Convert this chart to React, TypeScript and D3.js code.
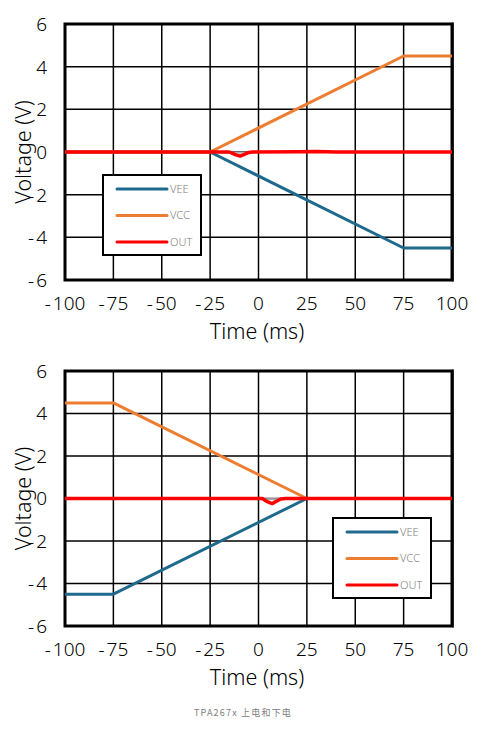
import React from "react";
import * as d3 from "d3";

// ---- data ----
const xTicks = [-100, -75, -50, -25, 0, 25, 50, 75, 100];
const yTicks = [-6, -4, -2, 0, 2, 4, 6];
const seriesNames = ["VEE", "VCC", "OUT"];
const seriesColors = ["#1F6A8C", "#ED7D31", "#FF0000"];

// Power-up (top)
const upVEE: [number, number][] = [[-100, 0], [-25, 0], [75, -4.5], [100, -4.5]];
const upVCC: [number, number][] = [[-100, 0], [-25, 0], [75, 4.5], [100, 4.5]];
const upOUT: [number, number][] = [[-100, 0], [-15, 0], [-12, -0.12], [-9.5, -0.19], [-7, -0.1], [-5, -0.02], [-3, 0], [20, 0.01], [30, 0.02], [40, 0], [100, 0]];
const upGray: [number, number][] = [[-20, -0.03], [-6, -0.03]];

// Power-down (bottom)
const dnVEE: [number, number][] = [[-100, -4.5], [-75, -4.5], [25, 0], [100, 0]];
const dnVCC: [number, number][] = [[-100, 4.5], [-75, 4.5], [25, 0], [100, 0]];
const dnOUT: [number, number][] = [[-100, 0], [2, 0], [4.5, -0.15], [7, -0.24], [9.5, -0.12], [11.5, -0.02], [14, 0], [100, 0]];
const dnGray: [number, number][] = [[0, -0.03], [12, -0.03]];

const caption = "TPA267x 上电和下电";

const FONT = "'Noto Sans', 'Noto Sans CJK SC', sans-serif";
const CJK = "'Noto Sans CJK SC', sans-serif";

interface PanelProps {
  top: number;
  bottom: number;
  series: [number, number][][];
  gray: [number, number][];
  legend: { x: number; y: number };
}

function Num({ v }: { v: number }) {
  if (v < 0) {
    return (
      <>
        <tspan>-</tspan>
        <tspan dx={2}>{String(Math.abs(v))}</tspan>
      </>
    );
  }
  return <>{String(v)}</>;
}

function Panel({ top, bottom, series, gray, legend }: PanelProps) {
  const left = 65;
  const right = 452;
  const x = d3.scaleLinear().domain([-100, 100]).range([left, right]);
  const y = d3.scaleLinear().domain([-6, 6]).range([bottom, top]);
  const line = d3
    .line<[number, number]>()
    .x((d) => x(d[0]))
    .y((d) => y(d[1]));
  const legW = 98;
  const legH = 80;
  return (
    <g>
      {/* grid */}
      {xTicks.map((t) => (
        <line key={"gx" + t} x1={x(t)} x2={x(t)} y1={top} y2={bottom} stroke="#000" strokeWidth={1.5} />
      ))}
      {yTicks.map((t) => (
        <line key={"gy" + t} x1={left} x2={right} y1={y(t)} y2={y(t)} stroke="#000" strokeWidth={1.5} />
      ))}
      {/* frame */}
      <rect x={left} y={top} width={right - left} height={bottom - top} fill="none" stroke="#000" strokeWidth={3} />
      <line x1={right + 1} x2={right + 1} y1={top - 1.5} y2={bottom + 1.5} stroke="#000" strokeWidth={1.5} />
      {/* series */}
      <path d={line(gray) || ""} fill="none" stroke="#B0B0B0" strokeWidth={2} />
      {series.map((s, i) => (
        <path key={i} d={line(s) || ""} fill="none" stroke={seriesColors[i]} strokeWidth={i === 2 ? 3.5 : 3} strokeLinejoin="round" />
      ))}
      {/* axis tick labels */}
      {yTicks.map((t) => (
        <text key={"ly" + t} x={47} y={y(t)} dy="0.36em" textAnchor="end" fontSize={19} fontWeight={300} fontFamily={FONT} fill="#000">
          <Num v={t} />
        </text>
      ))}
      {xTicks.map((t) => (
        <text key={"lx" + t} x={x(t)} y={bottom + 23} dy="0.36em" textAnchor="middle" fontSize={19} fontWeight={300} fontFamily={FONT} fill="#000">
          <Num v={t} />
        </text>
      ))}
      <text x={257} y={bottom + 51} dy="0.36em" textAnchor="middle" fontSize={21.5} fontWeight={300} fontFamily={FONT} fill="#000">
        Time (ms)
      </text>
      <text
        transform={`translate(23,${(top + bottom) / 2}) rotate(-90)`}
        dy="0.36em"
        textAnchor="middle"
        fontSize={21.5}
        fontWeight={300}
        fontFamily={FONT}
        fill="#000"
      >
        Voltage (V)
      </text>
      {/* legend */}
      <rect x={legend.x} y={legend.y} width={legW} height={legH} fill="#fff" stroke="#000" strokeWidth={2} />
      {seriesNames.map((n, i) => (
        <g key={n}>
          <line
            x1={legend.x + 14}
            x2={legend.x + 64}
            y1={legend.y + 14 + i * 26.5}
            y2={legend.y + 14 + i * 26.5}
            stroke={seriesColors[i]}
            strokeWidth={3}
            strokeLinecap="round"
          />
          <text x={legend.x + 67} y={legend.y + 14 + i * 26.5} dy="0.36em" fontSize={11} fontWeight={300} fontFamily={FONT} fill="#808080">
            {n}
          </text>
        </g>
      ))}
    </g>
  );
}

export default function App() {
  return (
    <svg width={482} height={734} style={{ position: "absolute", left: 0, top: 0, background: "#fff" }}>
      <rect x={0} y={0} width={482} height={734} fill="#fff" />
      <Panel top={24} bottom={280} series={[upVEE, upVCC, upOUT]} gray={upGray} legend={{ x: 103, y: 175 }} />
      <Panel top={371} bottom={626} series={[dnVEE, dnVCC, dnOUT]} gray={dnGray} legend={{ x: 333, y: 518 }} />
      <text x={243} y={713} dy="0.36em" textAnchor="middle" fontSize={9} fontFamily={CJK} fill="#808080" letterSpacing={1.2}>
        {caption}
      </text>
    </svg>
  );
}
